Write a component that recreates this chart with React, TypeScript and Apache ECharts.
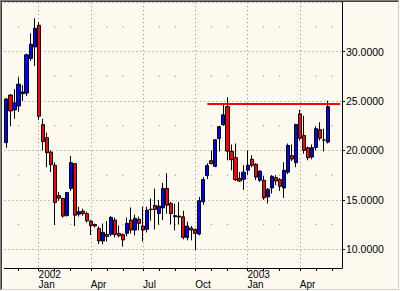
import React, { useEffect, useRef } from "react";
import * as echarts from "echarts";

// Weekly bars (week starting Monday)
const weeks: string[] = [
  "2001-11-05", "2001-11-12", "2001-11-19", "2001-11-26", "2001-12-03", "2001-12-10", "2001-12-17", "2001-12-24", "2001-12-31",
  "2002-01-07", "2002-01-14", "2002-01-21", "2002-01-28", "2002-02-04", "2002-02-11", "2002-02-18", "2002-02-25",
  "2002-03-04", "2002-03-11", "2002-03-18", "2002-03-25", "2002-04-01", "2002-04-08", "2002-04-15", "2002-04-22", "2002-04-29",
  "2002-05-06", "2002-05-13", "2002-05-20", "2002-05-27", "2002-06-03", "2002-06-10", "2002-06-17", "2002-06-24",
  "2002-07-01", "2002-07-08", "2002-07-15", "2002-07-22", "2002-07-29", "2002-08-05", "2002-08-12", "2002-08-19", "2002-08-26",
  "2002-09-02", "2002-09-09", "2002-09-16", "2002-09-23", "2002-09-30", "2002-10-07", "2002-10-14", "2002-10-21", "2002-10-28",
  "2002-11-04", "2002-11-11", "2002-11-18", "2002-11-25", "2002-12-02", "2002-12-09", "2002-12-16", "2002-12-23", "2002-12-30",
  "2003-01-06", "2003-01-13", "2003-01-20", "2003-01-27", "2003-02-03", "2003-02-10", "2003-02-17", "2003-02-24",
  "2003-03-03", "2003-03-10", "2003-03-17", "2003-03-24", "2003-03-31", "2003-04-07", "2003-04-14", "2003-04-21", "2003-04-28",
  "2003-05-05", "2003-05-12", "2003-05-19", "2003-05-26", "2003-06-02", "2003-06-09",
];

const opens: number[] = [
  20.78, 25.6, 24.1, 24.5, 25.75, 25.8, 29.3, 30.47, 32.66, 22.6,
  21.3, 19.83, 18.5, 15.44, 15.14, 13.42, 16.14, 18.66, 13.55, 13.86,
  13.6, 12.85, 12.5, 12.1, 10.84, 11.5, 11.5, 12.95, 11.6, 11.47,
  11.61, 12.95, 11.94, 13.02, 12.35, 12.01, 14.05, 14.43, 13.62, 14.19,
  16.14, 14.63, 13.3, 13.35, 13.28, 11.2, 12.15, 12.0, 11.54, 14.8,
  17.45, 18.96, 18.39, 21.2, 22.6, 24.43, 19.9, 19.26, 17.15, 17.08,
  18.0, 19.1, 18.6, 16.98, 16.98, 15.3, 16.2, 17.25, 17.05, 16.2,
  17.8, 19.47, 18.76, 23.7, 21.5, 20.27, 19.33, 20.3, 22.1, 21.05, 20.84,
];
const closes: number[] = [
  25.2, 24.0, 24.8, 26.7, 25.9, 29.67, 30.75, 32.35, 23.45, 20.9,
  19.77, 18.56, 14.73, 15.17, 13.35, 15.74, 18.76, 13.45, 13.8, 13.6,
  12.88, 12.4, 12.35, 10.84, 11.71, 11.3, 13.22, 11.5, 11.37, 10.94,
  12.62, 11.94, 13.12, 12.62, 11.94, 13.96, 14.0, 14.03, 14.36, 16.14,
  14.46, 13.62, 13.4, 13.25, 11.2, 12.35, 11.94, 11.6, 14.9, 17.05,
  18.46, 18.66, 21.08, 22.4, 23.6, 19.93, 19.06, 17.05, 16.9, 17.8,
  18.5, 18.5, 17.3, 17.9, 15.2, 16.07, 17.38, 16.9, 16.37, 17.99,
  20.5, 19.12, 22.62, 21.24, 20.0, 19.26, 20.27, 22.2, 21.24, 21.05, 24.43,
];
const lows: number[] = [
  20.27, 22.45, 23.2, 23.9, 25.0, 25.5, 29.06, 28.56, 23.1, 20.0,
  18.3, 17.8, 12.45, 14.9, 13.2, 13.3, 15.9, 12.35, 13.3, 13.4,
  12.7, 11.44, 12.2, 10.53, 10.5, 10.77, 11.3, 11.2, 11.2, 10.26,
  11.3, 11.6, 11.4, 11.9, 10.77, 11.7, 12.9, 12.0, 12.5, 12.95,
  13.6, 12.5, 11.9, 12.5, 11.0, 10.9, 10.9, 9.93, 11.4, 14.5,
  17.1, 18.6, 18.3, 19.9, 22.5, 19.0, 17.99, 16.9, 16.8, 16.0,
  17.5, 18.3, 17.0, 16.8, 15.0, 14.63, 15.64, 16.5, 15.9, 15.2,
  17.6, 18.9, 18.3, 21.0, 19.66, 19.0, 19.1, 20.0, 21.0, 19.9, 20.7,
];
const highs: number[] = [
  25.3, 25.7, 26.2, 27.4, 26.6, 29.8, 31.85, 33.36, 33.0, 23.2,
  21.8, 20.0, 18.8, 15.8, 15.2, 15.8, 19.43, 18.7, 14.3, 14.1,
  13.8, 12.95, 12.6, 12.3, 12.6, 12.85, 13.35, 13.2, 12.4, 11.6,
  13.2, 14.23, 13.5, 13.3, 14.3, 14.3, 15.14, 16.14, 15.0, 16.7,
  17.7, 14.8, 14.6, 14.8, 13.9, 12.8, 12.35, 12.1, 15.3, 17.3,
  18.7, 20.0, 21.1, 22.5, 24.7, 25.37, 20.6, 20.7, 17.8, 18.5,
  20.0, 19.5, 18.7, 18.0, 17.4, 16.2, 17.5, 17.5, 17.2, 18.8,
  20.7, 20.6, 22.7, 24.1, 23.5, 20.4, 20.6, 22.4, 22.85, 22.2, 25.03,
];

const resistanceLevel = 24.71;
const resistanceStart = "2002-10-21";
const resistanceEnd = "2003-06-09";

const monthNames = ["Jan", "Feb", "Mar", "Apr", "May", "Jun", "Jul", "Aug", "Sep", "Oct", "Nov", "Dec"];
const minorLevels = [12.5, 17.5, 22.5, 27.5, 32.5];

function monthStartIn(week: string): { m: number; y: number } | null {
  const [y, m, d] = week.split("-").map(Number);
  const t = Date.UTC(y, m - 1, d);
  for (let i = 0; i < 7; i++) {
    const dt = new Date(t + i * 86400000);
    if (dt.getUTCDate() === 1) return { m: dt.getUTCMonth(), y: dt.getUTCFullYear() };
  }
  return null;
}
const isQuarter = (w: string) => {
  const s = monthStartIn(w);
  return !!s && s.m % 3 === 0;
};
const isMonth = (w: string) => !!monthStartIn(w);

const FONT = "'Liberation Sans', Arial, sans-serif";
const GRID_COLOR = "#8a8a8a";

export default function App() {
  const ref = useRef<HTMLDivElement>(null);
  useEffect(() => {
    if (!ref.current) return;
    const chart = echarts.init(ref.current, undefined, { renderer: "svg" });
    const candleData = opens.map((o, i) => [o, closes[i], lows[i], highs[i]]);
    const dots: [string, number][] = [];
    weeks.forEach((w) => {
      if (isMonth(w) && !isQuarter(w)) minorLevels.forEach((lv) => dots.push([w, lv]));
    });

    chart.setOption({
      animation: false,
      backgroundColor: "#FFFAF0",
      textStyle: { fontFamily: FONT },
      grid: { left: 4.43, right: 58, top: 2.2, bottom: 23, containLabel: false },
      xAxis: {
        type: "category",
        data: weeks,
        boundaryGap: true,
        axisLine: { show: true, lineStyle: { color: "#000", width: 1 } },
        axisTick: {
          show: true,
          alignWithLabel: true,
          length: 3,
          interval: (_i: number, v: string) => isMonth(v),
          lineStyle: { color: "#000" },
        },
        axisLabel: {
          show: true,
          interval: (_i: number, v: string) => isQuarter(v),
          align: "left",
          margin: 1,
          fontSize: 10,
          fontFamily: FONT,
          color: "#000",
          formatter: (v: string) => {
            const s = monthStartIn(v);
            if (!s) return "";
            return s.m === 0
              ? `{y|${s.y}}\n{m|${monthNames[0]}}`
              : `{y| }\n{m|${monthNames[s.m]}}`;
          },
          rich: {
            y: { fontSize: 10, lineHeight: 10.5, fontFamily: FONT, color: "#000", align: "left" },
            m: { fontSize: 10, lineHeight: 10, fontFamily: FONT, color: "#000", align: "left" },
          },
        },
        splitLine: {
          show: true,
          alignWithLabel: true,
          interval: (_i: number, v: string) => isQuarter(v),
          lineStyle: { color: GRID_COLOR, width: 1, type: [1, 3] },
        },
      },
      yAxis: {
        type: "value",
        position: "right",
        min: 8.1,
        max: 35.0,
        splitNumber: 5,
        scale: true,
        axisLine: { show: true, lineStyle: { color: "#000", width: 1 } },
        axisTick: { show: true, length: 3, lineStyle: { color: "#000" } },
        axisLabel: {
          show: true,
          margin: 4,
          fontSize: 10.5,
          fontFamily: FONT,
          color: "#000",
          showMinLabel: false,
          showMaxLabel: false,
          formatter: (v: number) => v.toFixed(4),
        },
        splitLine: { show: true, lineStyle: { color: GRID_COLOR, width: 1, type: [1, 3] } },
      },
      series: [
        {
          type: "scatter",
          data: dots,
          symbol: "rect",
          symbolSize: 1.2,
          silent: true,
          z: 1,
          itemStyle: { color: GRID_COLOR },
        },
        {
          type: "candlestick",
          data: candleData,
          barWidth: 3.6,
          z: 3,
          itemStyle: {
            color: "#0000FF",
            color0: "#FF0000",
            borderColor: "#000",
            borderColor0: "#000",
            borderColorDoji: "#000",
            borderWidth: 1,
          },
          markLine: {
            silent: true,
            symbol: ["none", "none"],
            label: { show: false },
            lineStyle: { color: "#FF0000", width: 2, type: "solid" },
            data: [
              [
                { coord: [resistanceStart, resistanceLevel] },
                { coord: [resistanceEnd, resistanceLevel] },
              ],
            ],
          },
        },
      ],
      graphic: [
        { type: "line", shape: { x1: 0.5, y1: 0, x2: 0.5, y2: 291 }, style: { stroke: "#808080", lineWidth: 1 } },
        { type: "line", shape: { x1: 1.5, y1: 1, x2: 1.5, y2: 290 }, style: { stroke: "#404040", lineWidth: 1 } },
        { type: "line", shape: { x1: 0, y1: 0.5, x2: 400, y2: 0.5 }, style: { stroke: "#808080", lineWidth: 1 } },
        { type: "line", shape: { x1: 1, y1: 1.5, x2: 399, y2: 1.5 }, style: { stroke: "#404040", lineWidth: 1 } },
        { type: "line", shape: { x1: 399.5, y1: 0, x2: 399.5, y2: 291 }, style: { stroke: "#ffffff", lineWidth: 1 } },
        { type: "line", shape: { x1: 398.5, y1: 1, x2: 398.5, y2: 290 }, style: { stroke: "#d4d0c8", lineWidth: 1 } },
        { type: "line", shape: { x1: 0, y1: 290.5, x2: 400, y2: 290.5 }, style: { stroke: "#ffffff", lineWidth: 1 } },
        { type: "line", shape: { x1: 1, y1: 289.5, x2: 399, y2: 289.5 }, style: { stroke: "#d4d0c8", lineWidth: 1 } },
      ],
    });
    return () => chart.dispose();
  }, []);
  return (
    <div
      ref={ref}
      style={{ position: "fixed", left: 0, top: 0, width: 400, height: 291 }}
    />
  );
}
